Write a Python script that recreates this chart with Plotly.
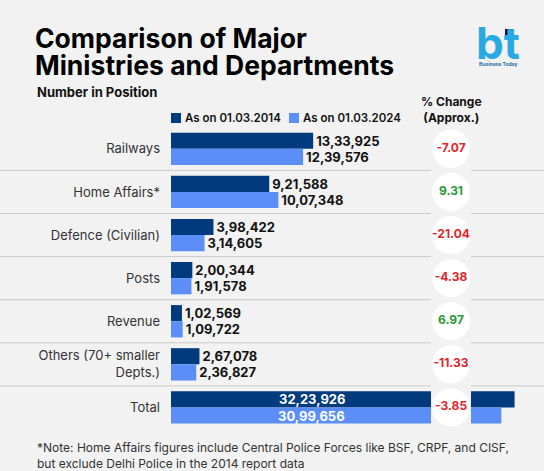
import plotly.graph_objects as go

W, H = 544, 471
BG = "#f2f2f2"
DARK = "#013b7e"
LIGHT = "#5b8ef7"
RED = "#e3242b"
GREEN = "#2a9a3a"
FONT = "Inter"

# data
departments = ["Railways", "Home Affairs*", "Defence (Civilian)", "Posts", "Revenue",
               "Others (70+ smaller<br>Depts.)", "Total"]
staff_2014 = [1333925, 921588, 398422, 200344, 102569, 267078, 3223926]
staff_2024 = [1239576, 1007348, 314605, 191578, 109722, 236827, 3099656]
pct_change = [-7.07, 9.31, -21.04, -4.38, 6.97, -11.33, -3.85]
series_names = ["As on 01.03.2014", "As on 01.03.2024"]


def indian(n):
    """format a number with indian digit grouping (12,34,567)"""
    s = str(n)
    last3, rest = s[-3:], s[:-3]
    groups = []
    while len(rest) > 2:
        groups.insert(0, rest[-2:])
        rest = rest[:-2]
    if rest:
        groups.insert(0, rest)
    return ",".join(groups + [last3])


def px(x):
    return x / W


def py(y):
    return 1 - y / H


def note(x, y, text, size, color="#111111", anchor="left", weight=None, **kw):
    fig.add_annotation(x=px(x), y=py(y), xref="paper", yref="paper", text=text,
                       showarrow=False, xanchor=anchor, yanchor="middle",
                       font=dict(family=FONT, size=size, color=color, weight=weight), **kw)


n = len(departments)
fig = go.Figure()

colors = [DARK, LIGHT]
for vals, name, color in zip([staff_2014, staff_2024], series_names, colors):
    fig.add_bar(y=departments, x=vals, orientation="h", name=name,
                marker=dict(color=color, line=dict(width=0)),
                text=[indian(v) for v in vals[:-1]] + [""],
                textposition="outside", constraintext="none", cliponaxis=False,
                textfont=dict(family=FONT, size=13, color="#111111", weight=700),
                hoverinfo="skip", showlegend=False)

# % change bubbles
fig.add_scatter(x=[0] * n, y=departments, xaxis="x2", mode="markers+text",
                marker=dict(size=38, color="white"),
                text=[f"{p:.2f}" for p in pct_change],
                textposition="middle center",
                textfont=dict(family=FONT, size=12, weight=700,
                              color=[RED if p < 0 else GREEN for p in pct_change]),
                showlegend=False, hoverinfo="skip")

# total labels sit inside the bars
for k, vals in enumerate([staff_2014, staff_2024]):
    fig.add_annotation(x=1.32e6, y=n - 1 + (k - 0.5) * 0.375, xref="x", yref="y",
                       text=indian(vals[-1]), showarrow=False, xanchor="center",
                       font=dict(family=FONT, size=13, color="white", weight=700))

# row dividers
for i in range(n - 1):
    fig.add_shape(type="line", xref="paper", yref="y", x0=0, x1=1, y0=i + 0.5, y1=i + 0.5,
                  line=dict(color="#cbcbcb", width=1), layer="below")

# legend (drawn by hand, plotly's own legend spacing is too loose here)
for lx, name, color in zip([171, 289], series_names, colors):
    fig.add_shape(type="rect", xref="paper", yref="paper", x0=px(lx), x1=px(lx + 10),
                  y0=py(123), y1=py(113), fillcolor=color, line=dict(width=0))
    note(lx + 12, 118, name, 11.5, weight=600)

# titles and notes
note(33, 38, "<b>Comparison of Major</b>", 26.5, "#000000")
note(33, 65, "<b>Ministries and Departments</b>", 26.5, "#000000")
note(35, 92, "<b>Number in Position</b>", 13)
note(451, 110, "<b>% Change<br>(Approx.)</b>", 12, anchor="center")
note(35, 455, "*Note: Home Affairs figures include Central Police Forces like BSF, CRPF, and CISF,"
              "<br>but exclude Delhi Police in the 2014 report data", 12, "#333333", align="left")
# logo
note(498, 43, "<b>bt</b>", 44, "#29a9e1", anchor="center")
fig.add_shape(type="rect", xref="paper", yref="paper", x0=px(505), x1=px(513),
              y0=py(36), y1=py(29), fillcolor="#111111", line=dict(width=0))
note(498, 64, "<b>Business Today</b>", 5, "#1d6fa5", anchor="center")

fig.update_layout(
    width=W, height=H,
    margin=dict(l=0, r=0, t=0, b=0),
    paper_bgcolor=BG, plot_bgcolor=BG,
    barmode="group", bargap=0.25, bargroupgap=0,
    font=dict(family=FONT, color="#333333"),
    xaxis=dict(domain=[px(171), 1], range=[0, 3.5e6], visible=False),
    xaxis2=dict(domain=[px(431), px(471)], range=[-1, 1], visible=False, anchor="y"),
    yaxis=dict(domain=[py(429), py(127.3)], type="category", range=[n - 0.5, -0.5],
               showgrid=False, zeroline=False, showline=False, ticks="",
               ticklabelstandoff=10, automargin=False,
               tickfont=dict(family=FONT, size=13, color="#333333")),
    showlegend=False,
)

fig.write_html("out.html", config={"displayModeBar": False},
               post_script="document.body.style.margin='0';")
